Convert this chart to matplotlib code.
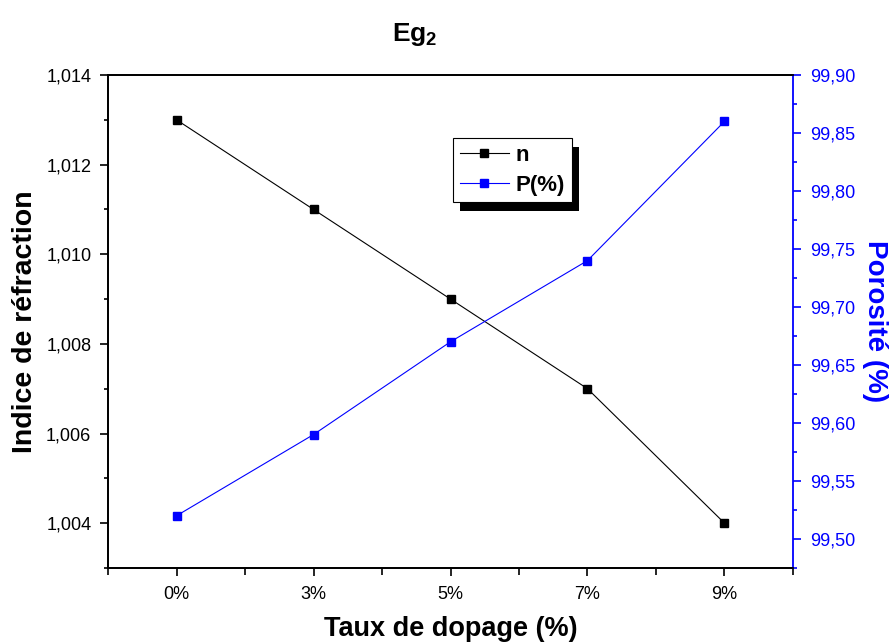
import matplotlib
matplotlib.use("Agg")
import matplotlib.pyplot as plt
from matplotlib.ticker import MultipleLocator, FuncFormatter
from matplotlib.patches import Rectangle
from matplotlib.transforms import IdentityTransform

# Data
dopage = ["0%", "3%", "5%", "7%", "9%"]
indice_n = [1.013, 1.011, 1.009, 1.007, 1.004]
porosite = [99.52, 99.59, 99.67, 99.74, 99.86]

plt.rcParams["font.family"] = ["Liberation Sans", "DejaVu Sans"]
plt.rcParams["mathtext.fontset"] = "custom"
plt.rcParams["mathtext.bf"] = "Liberation Sans:bold"
plt.rcParams["mathtext.rm"] = "Liberation Sans:bold"

BLUE = "#0000ff"

fig = plt.figure(figsize=(8.89, 6.42), dpi=100)
ax = fig.add_axes([0.1215, 0.1153, 0.7705, 0.7679])
ax2 = ax.twinx()

x = list(range(1, len(dopage) + 1))

ax.plot(x, indice_n, color="black", lw=0.8, marker="s", ms=6,
        mfc="black", mec="black", label="n")
ax2.plot(x, porosite, color=BLUE, lw=0.8, marker="s", ms=6,
         mfc=BLUE, mec=BLUE, label="P(%)")

ax.set_xlim(0.5, 5.5)
ax.set_ylim(1.003, 1.014)
ax2.set_ylim(99.475, 99.90)

ax.set_xticks(x)
ax.set_xticklabels(dopage)
ax.set_xticks([v + 0.5 for v in [0] + x], minor=True)

ax.yaxis.set_major_locator(MultipleLocator(0.002))
ax.yaxis.set_minor_locator(MultipleLocator(0.001))
ax.yaxis.set_major_formatter(FuncFormatter(lambda v, p: f"{v:.3f}".replace(".", ",")))

ax2.yaxis.set_major_locator(MultipleLocator(0.05))
ax2.yaxis.set_minor_locator(MultipleLocator(0.025))
ax2.yaxis.set_major_formatter(FuncFormatter(lambda v, p: f"{v:.2f}".replace(".", ",")))

for a in (ax, ax2):
    for s in a.spines.values():
        s.set_linewidth(1.3)
ax2.spines["right"].set_color(BLUE)
ax.spines["right"].set_visible(False)

ax.tick_params(axis="both", which="major", direction="out", length=6, width=1.2,
               labelsize=13, pad=6)
ax.tick_params(axis="y", which="minor", direction="out", length=3, width=1.2)
ax.tick_params(axis="x", which="minor", direction="out", length=5, width=1.2)
ax.tick_params(axis="x", which="major", pad=7)
ax2.tick_params(axis="y", which="major", direction="out", length=6, width=1.2,
                colors=BLUE, labelsize=13, pad=6)
ax2.tick_params(axis="y", which="minor", direction="out", length=3, width=1.2,
                colors=BLUE)

ax.set_xlabel("Taux de dopage (%)", fontsize=19.5, fontweight="bold", labelpad=9)
ax.set_ylabel("Indice de réfraction", fontsize=20.5, fontweight="bold", labelpad=6)
ax2.set_ylabel("Porosité (%)", fontsize=20, fontweight="bold", color=BLUE,
               rotation=-90, labelpad=24)

fig.text(0.467, 0.946, r"$\mathbf{Eg_2}$", fontsize=19, ha="center", va="center")

h1, l1 = ax.get_legend_handles_labels()
h2, l2 = ax2.get_legend_handles_labels()
leg = ax2.legend(h1 + h2, l1 + l2, loc="upper left",
                 bbox_to_anchor=(0.504, 0.872), borderaxespad=0,
                 numpoints=1, handlelength=2.2,
                 handletextpad=0.3, borderpad=0.3, labelspacing=0.4,
                 fancybox=False, edgecolor="black", framealpha=1,
                 prop={"weight": "bold", "size": 16})
leg.get_frame().set_linewidth(0.8)
leg.set_zorder(6)

# drop shadow behind the legend box
fig.canvas.draw()
bb = leg.get_frame().get_window_extent(fig.canvas.get_renderer())
shadow = Rectangle((bb.x0 + 7, bb.y0 - 9), bb.width, bb.height,
                   transform=IdentityTransform(), facecolor="black",
                   edgecolor="none", zorder=5, clip_on=False)
ax2.add_patch(shadow)

fig.savefig("out.png", dpi=100)
